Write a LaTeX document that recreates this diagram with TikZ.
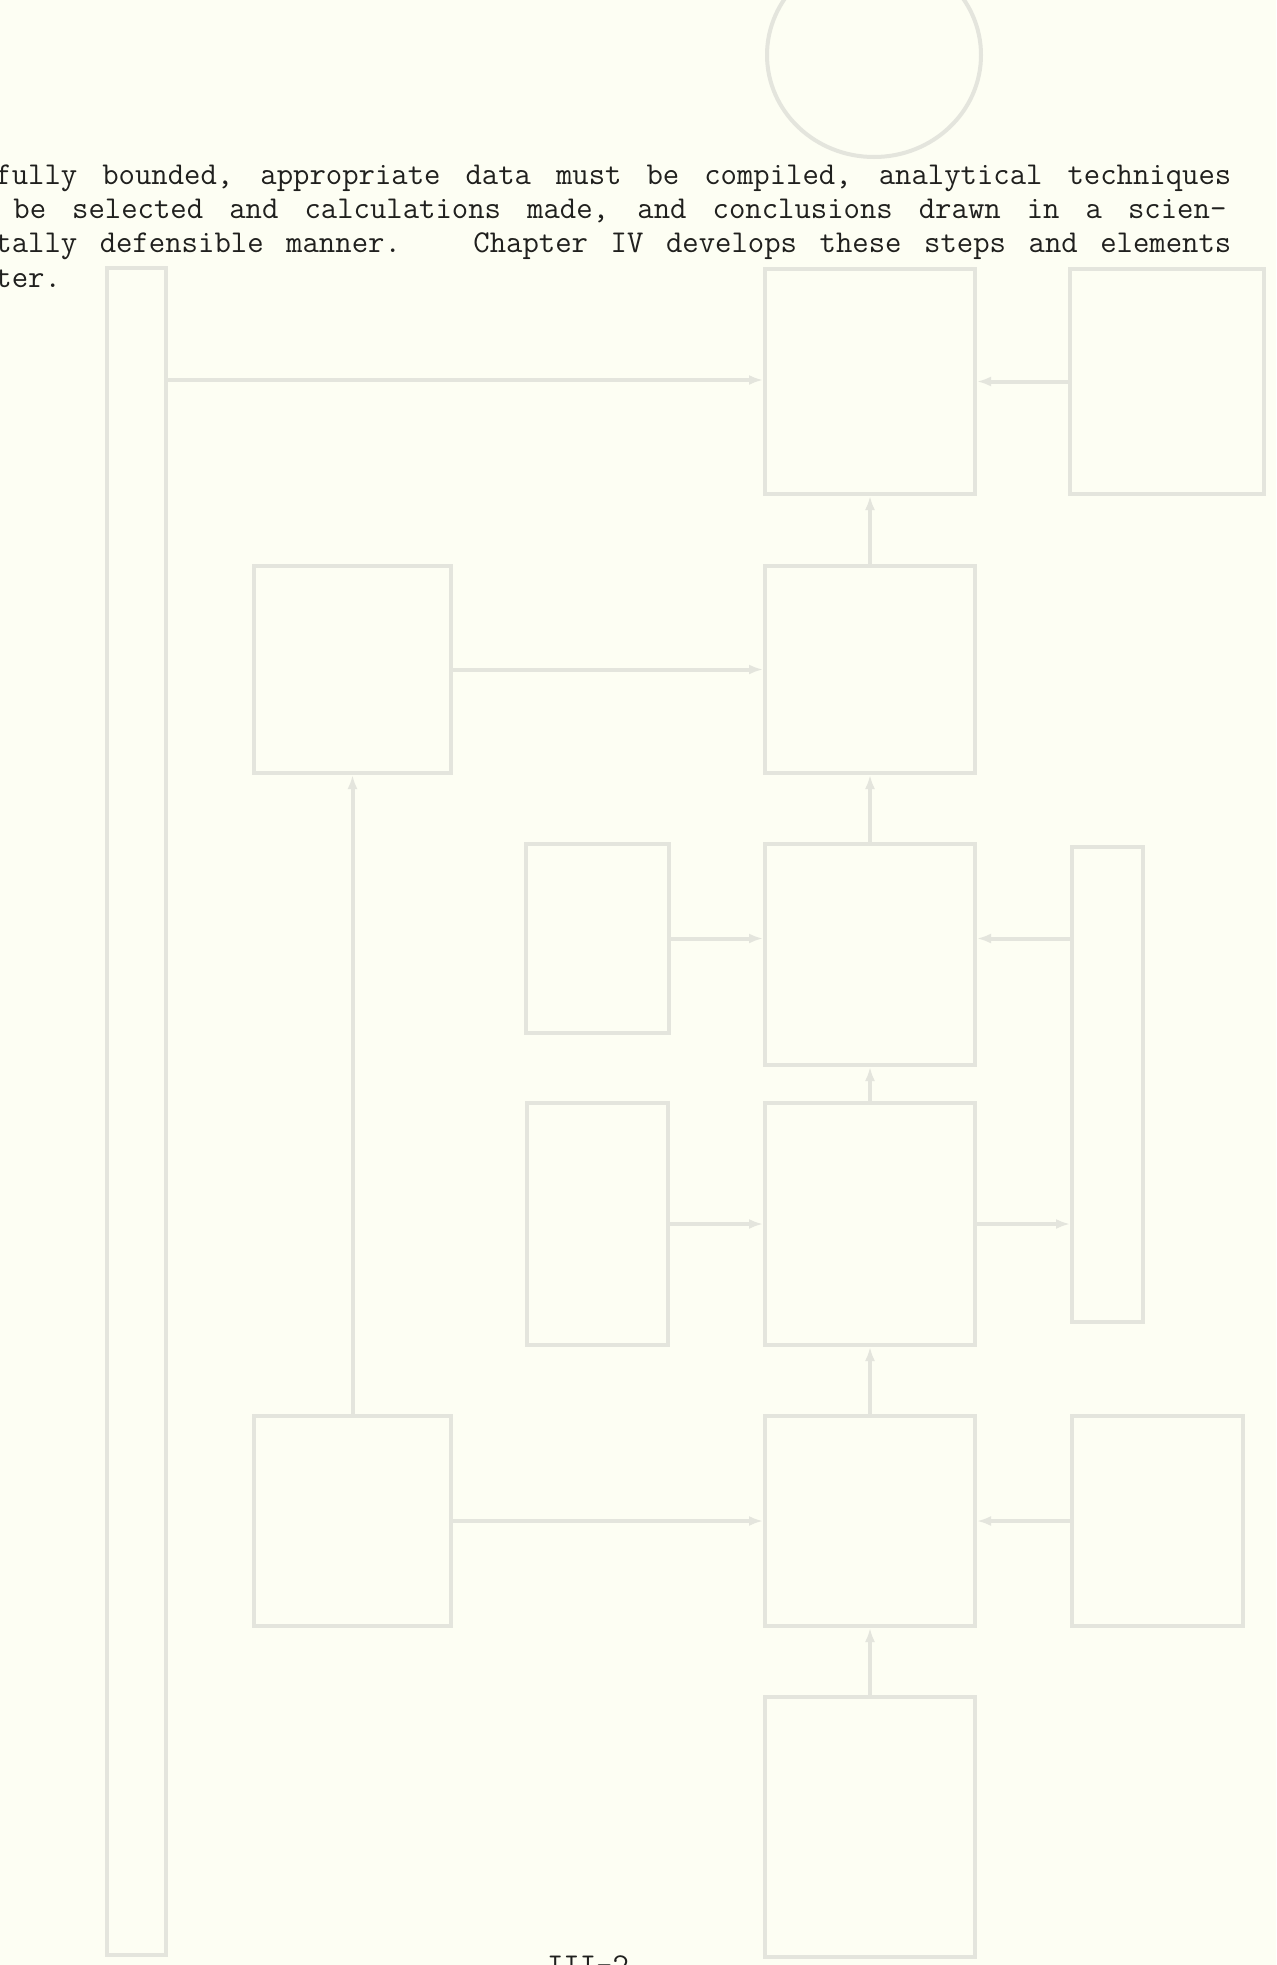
\documentclass[tikz,border=0pt]{standalone}
\usepackage{fontspec}
\usetikzlibrary{arrows.meta, fit}
\definecolor{paper}{RGB}{253,254,243}
\definecolor{ink}{RGB}{32,32,30}
\definecolor{ghost}{RGB}{228,229,221}
\newcommand\justline[2]{\makebox[#1][s]{\spaceskip=8.35pt plus 1fil\relax #2}}

\begin{document}
\begin{tikzpicture}[x=0.5pt, y=-0.5pt,
    ghostbox/.style={draw=ghost, line width=2pt, inner sep=0pt},
    ghostline/.style={draw=ghost, line width=2pt, -{Latex[length=7pt, width=5pt]}},
    textline/.style={anchor=base west, inner sep=0pt, text=ink,
      font=\ttfamily\fontsize{15.9}{18}\selectfont\addfontfeatures{FakeBold=1.6}}]
  \useasboundingbox (0,0) rectangle (1276,1965);
  \clip (0,0) rectangle (1276,1965);
  \fill[paper] (0,0) rectangle (1276,1965);
  % show-through of the chart on the back of the sheet
  \draw[ghost, line width=2pt] (874,55) ellipse [x radius=53.5pt, y radius=51pt];
  \node[ghostbox, fit={(107,268) (166,1955)}] (T) {};
  \node[ghostbox, fit={(765,269) (975,494)}] (A) {};
  \node[ghostbox, fit={(1070,269) (1264,494)}] (B) {};
  \node[ghostbox, fit={(254,566) (451,773)}] (D) {};
  \node[ghostbox, fit={(765,566) (975,773)}] (C) {};
  \node[ghostbox, fit={(526,844) (669,1033)}] (K) {};
  \node[ghostbox, fit={(765,844) (975,1065)}] (G) {};
  \node[ghostbox, fit={(1072,847) (1143,1322)}] (L) {};
  \node[ghostbox, fit={(527,1103) (668,1345)}] (F) {};
  \node[ghostbox, fit={(765,1103) (975,1345)}] (E) {};
  \node[ghostbox, fit={(254,1416) (451,1626)}] (H) {};
  \node[ghostbox, fit={(765,1416) (975,1626)}] (I) {};
  \node[ghostbox, fit={(1072,1416) (1243,1626)}] (M) {};
  \node[ghostbox, fit={(765,1697) (975,1957)}] (J) {};
  \draw[ghostline] (T.east |- 0,380) -- (A.west |- 0,380);
  \draw[ghostline] (B) -- (A);
  \draw[ghostline] (C) -- (A);
  \draw[ghostline] (D) -- (C);
  \draw[ghostline] (H) -- (D);
  \draw[ghostline] (G) -- (C);
  \draw[ghostline] (K.east) -- (K.east -| G.west);
  \draw[ghostline] (L.west |- K.east) -- (G.east |- K.east);
  \draw[ghostline] (E) -- (G);
  \draw[ghostline] (F) -- (E);
  \draw[ghostline] (E.east) -- (E.east -| L.west);
  \draw[ghostline] (I) -- (E);
  \draw[ghostline] (H) -- (I);
  \draw[ghostline] (M) -- (I);
  \draw[ghostline] (J) -- (I);
  % typed text
  \node[textline] (l1) at (-5,184) {\justline{618pt}{fully bounded, appropriate data must be compiled, analytical techniques}};
  \node[textline] (l2) at (13,218) {\justline{606.5pt}{be selected and calculations made, and conclusions drawn in a scien-}};
  \node[textline] (l3) at (-5,252) {\justline{618pt}{tally defensible manner.\hspace{25pt}\ Chapter IV develops these steps and elements}};
  \node[textline] (l4) at (-5,287) {ter.};
  \node[textline, anchor=base] (pg) at (588,1975) {III-2};
\end{tikzpicture}
\end{document}
